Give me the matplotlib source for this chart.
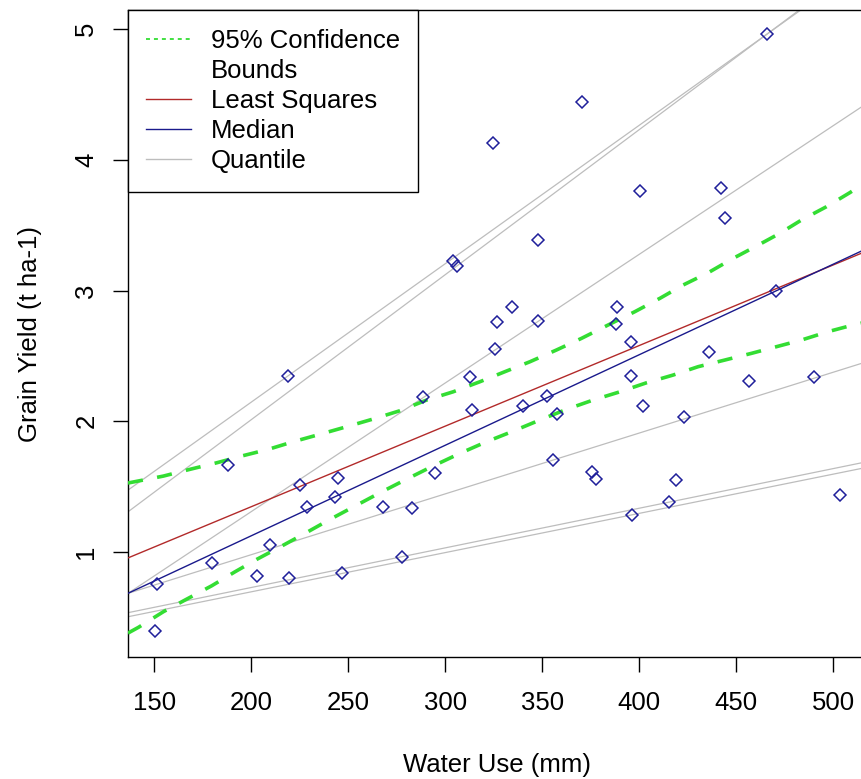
import matplotlib
matplotlib.use("Agg")
import matplotlib.pyplot as plt
from matplotlib.lines import Line2D

plt.rcParams['font.family'] = ['Liberation Sans', 'DejaVu Sans']

# ---- data ----
water_use = [151.2, 150.4, 179.6, 188.1, 202.8, 209.6, 219.1, 219.6, 225.1, 228.6,
             243.1, 244.8, 246.6, 268.0, 277.5, 282.7, 288.7, 294.7, 304.1, 306.2,
             312.7, 313.9, 324.7, 325.6, 326.5, 334.4, 340.2, 348.1, 348.1, 352.6,
             355.7, 357.7, 370.6, 375.6, 377.5, 388.0, 388.7, 395.6, 395.6, 396.4,
             400.7, 402.1, 415.2, 418.9, 423.0, 435.8, 442.0, 444.3, 456.7, 466.0,
             470.8, 490.2, 503.8]
grain_yield = [0.753, 0.396, 0.914, 1.666, 0.816, 1.054, 2.349, 0.799, 1.513, 1.347,
               1.423, 1.564, 0.837, 1.347, 0.964, 1.334, 2.184, 1.602, 3.226, 3.191,
               2.341, 2.086, 4.127, 2.553, 2.757, 2.872, 2.119, 3.389, 2.767, 2.196,
               1.704, 2.056, 4.445, 1.614, 1.559, 2.742, 2.872, 2.604, 2.349, 1.283,
               3.760, 2.119, 1.385, 1.549, 2.031, 2.528, 3.787, 3.555, 2.311, 4.963,
               2.999, 2.337, 1.436]

# fitted lines: (intercept, slope)
least_squares = (0.1144, 0.006163)
median_fit = (-0.260, 0.006923)
quantile_fits = [(0.030, 0.010586), (-0.205, 0.01109), (-0.658, 0.009838),
                 (0.0497, 0.004651), (0.1226, 0.003031), (0.0959, 0.0029995)]

# 95% confidence bounds
ci_upper_x = [136.4, 154.6, 168.4, 182.2, 195.1, 208.8, 221.6, 235.4, 249.2, 262.9,
              276.6, 290.4, 304.1, 317.9, 330.8, 343.7, 357.4, 370.3, 384.0, 397.8,
              410.7, 422.7, 435.6, 448.5, 460.5, 472.5, 483.7, 496.6, 508.6, 514.8]
ci_upper_y = [1.528, 1.581, 1.633, 1.683, 1.735, 1.786, 1.844, 1.901, 1.959, 2.018,
              2.081, 2.163, 2.226, 2.303, 2.380, 2.456, 2.546, 2.635, 2.737, 2.839,
              2.941, 3.043, 3.137, 3.247, 3.341, 3.438, 3.540, 3.642, 3.749, 3.808]
ci_lower_x = [136.4, 141.8, 154.6, 166.7, 179.6, 191.6, 202.8, 215.7, 227.7, 240.6,
              253.5, 266.4, 279.2, 293.0, 307.6, 321.3, 334.2, 348.8, 362.6, 376.3,
              390.1, 403.8, 417.5, 430.4, 444.2, 457.9, 470.8, 483.7, 497.4, 510.3, 514.8]
ci_lower_y = [0.380, 0.424, 0.543, 0.640, 0.742, 0.849, 0.944, 1.046, 1.143, 1.250,
              1.352, 1.454, 1.551, 1.653, 1.755, 1.844, 1.920, 2.010, 2.092, 2.163,
              2.226, 2.295, 2.354, 2.418, 2.469, 2.520, 2.571, 2.622, 2.686, 2.737, 2.752]

x_ticks = [150, 200, 250, 300, 350, 400, 450, 500]
y_ticks = [1, 2, 3, 4, 5]
legend_labels = ["95% Confidence", "Bounds", "Least Squares", "Median", "Quantile"]

# ---- colours / styles ----
c_pts = '#1f1f9a'
c_ls = '#b22a2a'
c_med = '#1a1a8c'
c_q = '#bdbdbd'
c_ci = '#33dd33'
FS = 18.5

fig = plt.figure(figsize=(8.62, 7.79), dpi=100)
ax = fig.add_axes([128/862, (779-657)/779, (866-128)/862, (657-10)/779])

for b, m in quantile_fits:
    ax.axline((0, b), slope=m, color=c_q, lw=0.9, zorder=2)
ax.axline((0, least_squares[0]), slope=least_squares[1], color=c_ls, lw=1.0, zorder=3)
ax.axline((0, median_fit[0]), slope=median_fit[1], color=c_med, lw=1.0, zorder=3)
ax.plot(ci_upper_x, ci_upper_y, color=c_ci, lw=2.6, ls=(0, (4.2, 4.0)), zorder=3)
ax.plot(ci_lower_x, ci_lower_y, color=c_ci, lw=2.6, ls=(0, (4.2, 4.0)), zorder=3)
ax.plot(water_use, grain_yield, ls='none', marker='D', ms=6.0, mfc='none',
        mec=c_pts, mew=1.1, zorder=4)

ax.set_xlim(136.4, 517.0)
ax.set_ylim(0.197, 5.147)
ax.set_xticks(x_ticks)
ax.set_yticks(y_ticks)
ax.set_xticklabels([str(v) for v in x_ticks])
ax.set_yticklabels([str(v) for v in y_ticks])
ax.tick_params(axis='both', length=10.8, width=1.0, labelsize=FS, colors='black')
ax.tick_params(axis='x', pad=14)
ax.tick_params(axis='y', pad=10.5)
for lbl in ax.get_yticklabels():
    lbl.set_rotation(90)
    lbl.set_va('center')
    lbl.set_ha('right')

for sp in ax.spines.values():
    sp.set_linewidth(1.0)
    sp.set_color('black')

ax.set_xlabel("Water Use (mm)", fontsize=FS)
ax.set_ylabel("Grain Yield (t ha-1)", fontsize=FS)
ax.xaxis.set_label_coords(0.5, -(765-657)/647)
ax.xaxis.label.set_va('center')
ax.yaxis.set_label_coords(-(128-30)/738, 0.5)
ax.yaxis.label.set_va('center')

handles = [Line2D([], [], color=c_ci, lw=1.3, ls=(0, (2.2, 2.2))),
           Line2D([], [], color='none'),
           Line2D([], [], color=c_ls, lw=1.0),
           Line2D([], [], color=c_med, lw=1.0),
           Line2D([], [], color=c_q, lw=1.0)]
leg = ax.legend(handles, legend_labels, loc='upper left', bbox_to_anchor=(0, 1),
                borderaxespad=0, fontsize=FS, labelspacing=0.24, handlelength=1.75,
                handletextpad=0.75, borderpad=0.72, fancybox=False, framealpha=1,
                edgecolor='black')
leg.get_frame().set_linewidth(1.0)

fig.savefig("out.png", dpi=100)
